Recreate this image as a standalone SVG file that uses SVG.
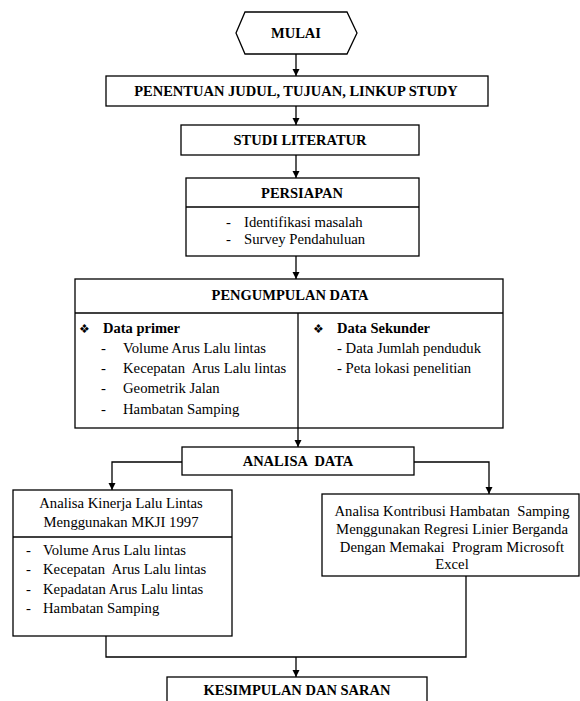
<svg xmlns="http://www.w3.org/2000/svg" width="580" height="701" viewBox="0 0 580 701">
<style>
.box{fill:#fff;stroke:#000;stroke-width:1.3}
.ln{fill:none;stroke:#000;stroke-width:1.3}
.t{font-family:'Liberation Serif','Times New Roman',serif;font-size:14.7px;fill:#000}
.b{font-family:'Liberation Serif','Times New Roman',serif;font-size:14.5px;font-weight:bold;fill:#000}
.c{text-anchor:middle}
</style>
<defs>
<marker id="ah" markerWidth="8" markerHeight="8" refX="7" refY="4" orient="auto" markerUnits="userSpaceOnUse">
<path d="M0,0.5 L7,4 L0,7.5 z" fill="#000"/>
</marker>
</defs>
<rect width="580" height="701" fill="#fff"/>
<g id="connectors">
<line class="ln" x1="296" y1="54" x2="296" y2="76" marker-end="url(#ah)"/>
<line class="ln" x1="296" y1="106" x2="296" y2="125" marker-end="url(#ah)"/>
<line class="ln" x1="296" y1="155" x2="296" y2="178" marker-end="url(#ah)"/>
<line class="ln" x1="296" y1="256" x2="296" y2="279" marker-end="url(#ah)"/>
<line class="ln" x1="298" y1="429" x2="298" y2="447" marker-end="url(#ah)"/>
<polyline class="ln" points="182,462 112,462 112,490" marker-end="url(#ah)"/>
<polyline class="ln" points="414,462 489,462 489,494" marker-end="url(#ah)"/>
<polyline class="ln" points="106,636 106,657 466,657 466,576"/>
<line class="ln" x1="296" y1="657" x2="296" y2="677" marker-end="url(#ah)"/>
</g>
<g id="mulai">
<polygon class="box" points="236,33 245,12 347,12 357,33 347,54 245,54"/>
<text class="b c" x="296" y="38">MULAI</text>
</g>
<g id="penentuan">
<rect class="box" x="106" y="76" width="382" height="30"/>
<text class="b c" x="296" y="96">PENENTUAN JUDUL, TUJUAN, LINKUP STUDY</text>
</g>
<g id="studi">
<rect class="box" x="181" y="125" width="238" height="30"/>
<text class="b c" x="300" y="145">STUDI LITERATUR</text>
</g>
<g id="persiapan">
<rect class="box" x="186" y="178" width="233" height="78"/>
<line class="ln" x1="186" y1="207" x2="419" y2="207"/>
<text class="b c" x="302" y="198">PERSIAPAN</text>
<text class="t" x="226" y="227">-</text>
<text class="t" x="244" y="227">Identifikasi masalah</text>
<text class="t" x="226" y="244">-</text>
<text class="t" x="244" y="244">Survey Pendahuluan</text>
</g>
<g id="pengumpulan">
<rect class="box" x="75" y="279" width="428" height="149"/>
<line class="ln" x1="75" y1="313" x2="503" y2="313"/>
<line class="ln" x1="298" y1="313" x2="298" y2="429"/>
<text class="b c" x="290" y="300">PENGUMPULAN DATA</text>
<text class="t" x="79" y="333" style="font-size:12px">❖</text>
<text class="b" x="103" y="333">Data primer</text>
<text class="t" x="101" y="353">-</text>
<text class="t" x="123" y="353">Volume Arus Lalu lintas</text>
<text class="t" x="101" y="373">-</text>
<text class="t" x="123" y="373" xml:space="preserve">Kecepatan  Arus Lalu lintas</text>
<text class="t" x="101" y="393">-</text>
<text class="t" x="123" y="393">Geometrik Jalan</text>
<text class="t" x="101" y="414">-</text>
<text class="t" x="123" y="414">Hambatan Samping</text>
<text class="t" x="313" y="333" style="font-size:12px">❖</text>
<text class="b" x="337" y="333">Data Sekunder</text>
<text class="t" x="337" y="353">- Data Jumlah penduduk</text>
<text class="t" x="337" y="373">- Peta lokasi penelitian</text>
</g>
<g id="analisa">
<rect class="box" x="182" y="447" width="232" height="28"/>
<text class="b c" x="298" y="466" xml:space="preserve">ANALISA  DATA</text>
</g>
<g id="kinerja">
<rect class="box" x="13" y="490" width="219" height="146"/>
<line class="ln" x1="13" y1="537" x2="232" y2="537"/>
<text class="t c" x="121" y="508">Analisa Kinerja Lalu Lintas</text>
<text class="t c" x="121" y="527">Menggunakan MKJI 1997</text>
<text class="t" x="26" y="555">-</text>
<text class="t" x="43" y="555">Volume Arus Lalu lintas</text>
<text class="t" x="26" y="574">-</text>
<text class="t" x="43" y="574" xml:space="preserve">Kecepatan  Arus Lalu lintas</text>
<text class="t" x="26" y="594">-</text>
<text class="t" x="43" y="594">Kepadatan Arus Lalu lintas</text>
<text class="t" x="26" y="613">-</text>
<text class="t" x="43" y="613">Hambatan Samping</text>
</g>
<g id="kontribusi">
<rect class="box" x="322" y="494" width="257" height="82"/>
<text class="t c" x="452" y="516" xml:space="preserve">Analisa Kontribusi Hambatan  Samping</text>
<text class="t c" x="452" y="534">Menggunakan Regresi Linier Berganda</text>
<text class="t c" x="452" y="552" xml:space="preserve">Dengan Memakai  Program Microsoft</text>
<text class="t c" x="452" y="569">Excel</text>
</g>
<g id="kesimpulan">
<rect class="box" x="167" y="677" width="260" height="30"/>
<text class="b c" x="297" y="695">KESIMPULAN DAN SARAN</text>
</g>
</svg>
